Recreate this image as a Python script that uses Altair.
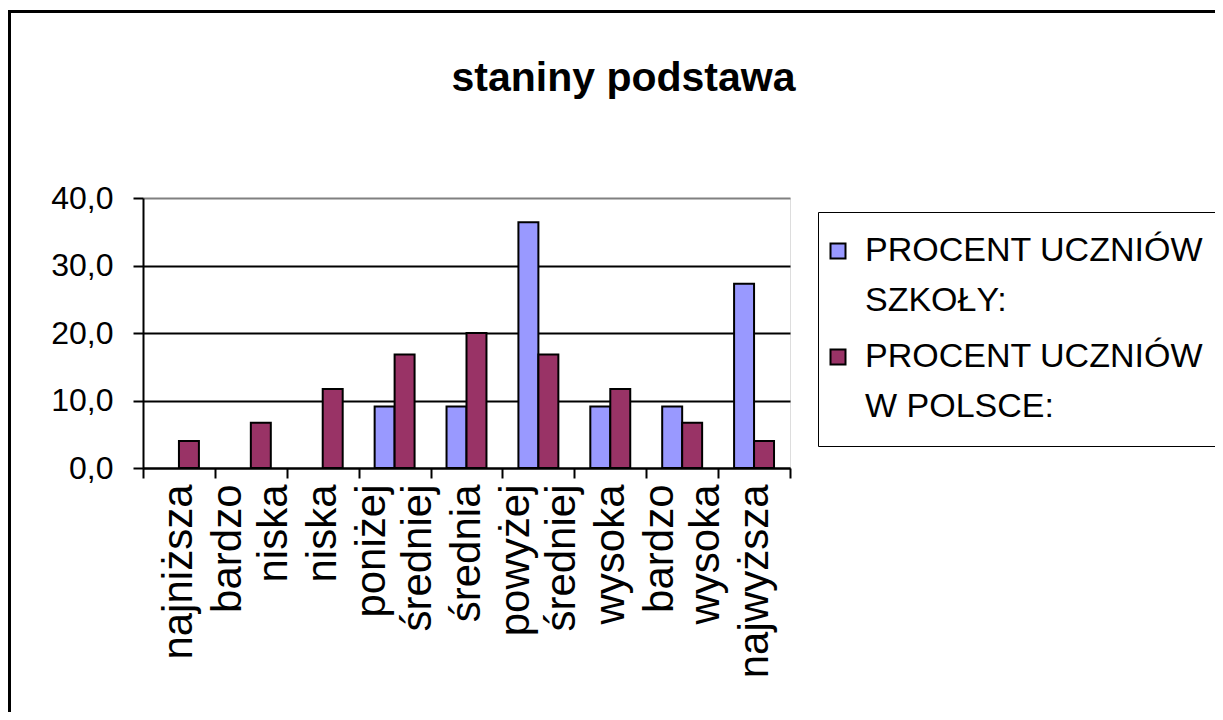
import altair as alt
import pandas as pd

# ---- data ----
categories = ["najniższa", "bardzo niska", "niska", "poniżej średniej", "średnia",
              "powyżej średniej", "wysoka", "bardzo wysoka", "najwyższa"]
school_pct = [0.0, 0.0, 0.0, 9.1, 9.1, 36.4, 9.1, 9.1, 27.3]
poland_pct = [4.0, 6.7, 11.7, 16.8, 20.0, 16.8, 11.7, 6.7, 4.0]
series_names = ["PROCENT UCZNIÓW|SZKOŁY:", "PROCENT UCZNIÓW|W POLSCE:"]
series_colors = ["#9999FF", "#993366"]
y_ticks = [0, 10, 20, 30, 40]

rows = []
for cat, s, p in zip(categories, school_pct, poland_pct):
    rows.append({"category": cat, "series": series_names[0], "value": s})
    rows.append({"category": cat, "series": series_names[1], "value": p})
df = pd.DataFrame(rows)

FONT = "Liberation Sans"
W, H = 647, 270
PAD = {"left": 135, "top": 190, "right": 425, "bottom": 244}

# two-word labels -> two lines (with a blank spacer line), one-word labels -> centred line
SP = "\u2800"  # blank glyph that is not trimmed away
x_label_expr = (
    "length(split(datum.label, ' ')) > 1 ? "
    f"[split(datum.label, ' ')[0], '{SP}', split(datum.label, ' ')[1]] : "
    f"['{SP}', datum.label]"
)

bars = (
    alt.Chart(df)
    .transform_filter("datum.value > 0")
    .mark_bar(stroke="black", strokeWidth=2)
    .encode(
        x=alt.X(
            "category:N",
            sort=categories,
            scale=alt.Scale(domain=categories, paddingInner=0, paddingOuter=0),
            axis=alt.Axis(
                title=None,
                labelAngle=270,
                labelAlign="right",
                labelBaseline="middle",
                labelExpr=x_label_expr,
                labelFont=FONT,
                labelFontSize=42,
                labelLineHeight=23,
                labelOffset={"expr": "-23"},
                labelColor="black",
                labelPadding=6,
                labelLimit=400,
                labelOverlap=False,
                tickBand="extent",
                tickSize=10,
                tickWidth=2,
                tickColor="black",
                domainColor="black",
                domainWidth=2,
                grid=False,
            ),
        ),
        xOffset=alt.XOffset(
            "series:N",
            sort=series_names,
            scale=alt.Scale(domain=series_names, paddingInner=0, paddingOuter=0.8),
        ),
        y=alt.Y(
            "value:Q",
            scale=alt.Scale(domain=[0, 40], nice=False),
            axis=alt.Axis(
                title=None,
                values=y_ticks,
                labelExpr="replace(format(datum.value, '.1f'), '.', ',')",
                labelFont=FONT,
                labelFontSize=32,
                labelColor="black",
                labelPadding=20,
                labelFlush=False,
                labelOverlap=False,
                tickSize=10,
                tickWidth=2,
                tickColor="black",
                domainColor="black",
                domainWidth=2,
                grid=True,
                gridWidth=2,
                gridColor={"condition": {"test": "datum.value >= 40", "value": "#808080"},
                           "value": "black"},
            ),
        ),
        color=alt.Color(
            "series:N",
            sort=series_names,
            scale=alt.Scale(domain=series_names, range=series_colors),
            legend=alt.Legend(
                title=None,
                orient="none",
                legendX=675,
                legendY=14,
                labelExpr="split(datum.label, '|')",
                labelFont=FONT,
                labelFontSize=34,
                labelColor="black",
                labelBaseline="middle",
                labelLimit=500,
                labelOffset=10,
                symbolType="square",
                symbolSize=225,
                symbolOffset={"expr": "-19"},
                symbolStrokeColor="black",
                symbolStrokeWidth=2,
                symbolOpacity=1,
                rowPadding=22,
                padding=22,
                strokeColor="black",
                fillColor="white",
            ),
        ),
    )
)

frame = (
    alt.Chart(alt.Data(values=[{}]))
    .mark_rect(filled=False, stroke="black", strokeWidth=3)
    .encode(
        x=alt.value(-133.5),
        x2=alt.value(1100),
        y=alt.value(-186.5),
        y2=alt.value(540),
    )
)

chart = (
    alt.layer(bars, frame)
    .properties(
        width=W,
        height=H,
        padding=PAD,
        autosize=alt.AutoSizeParams(type="none"),
        background="white",
        title=alt.TitleParams(
            "staniny podstawa",
            font=FONT,
            fontSize=41,
            fontWeight="bold",
            color="black",
            anchor="middle",
            frame="group",
            baseline="alphabetic",
            dx=157,
            offset=-122,
        ),
    )
    .configure_view(fill="#C0C0C0", stroke="#808080", strokeWidth=2)
    .configure_legend(strokeWidth=2)
    .configure(style={"guide-label": {"lineHeight": 50}})
)

chart.save("out.html", embed_options={"renderer": "svg", "actions": False})
